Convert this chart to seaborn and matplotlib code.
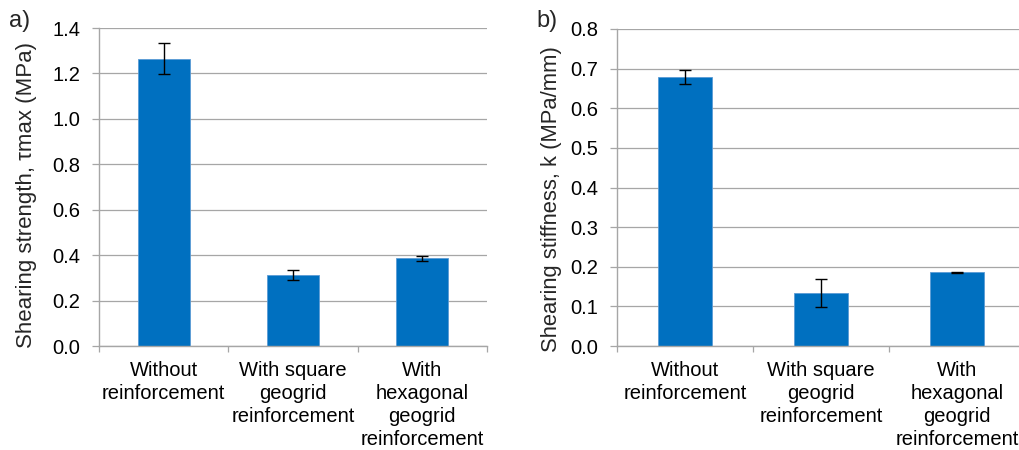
import matplotlib
matplotlib.use("Agg")
import matplotlib.pyplot as plt
import seaborn as sns
import pandas as pd
import numpy as np

categories = ["Without\nreinforcement",
              "With square\ngeogrid\nreinforcement",
              "With\nhexagonal\ngeogrid\nreinforcement"]
strength = [1.265, 0.313, 0.386]
strength_err = [0.067, 0.022, 0.010]
stiffness = [0.679, 0.134, 0.186]
stiffness_err = [0.018, 0.035, 0.002]
strength_ticks = [0.0, 0.2, 0.4, 0.6, 0.8, 1.0, 1.2, 1.4]
stiffness_ticks = [0.0, 0.1, 0.2, 0.3, 0.4, 0.5, 0.6, 0.7, 0.8]

sns.set_theme(style="white")
plt.rcParams['font.family'] = ['Liberation Sans', 'DejaVu Sans']

W, H = 1019, 450
fig = plt.figure(figsize=(W/100, H/100), dpi=100)

BAR = "#0070C0"
GRID = "#a6a6a6"
FS = 14.5

def make(ax, vals, errs, ticks, ylabel, ylfs, label_x, label_y, panel, panel_x):
    df = pd.DataFrame({"cat": categories, "val": vals})
    sns.barplot(data=df, x="cat", y="val", color=BAR, width=0.4,
                saturation=1, ax=ax, edgecolor="#5b9bd5", linewidth=0.6)
    ax.errorbar(range(len(categories)), vals, yerr=errs, fmt="none",
                ecolor="black", elinewidth=1, capsize=4.5, capthick=1, zorder=5)
    ax.set_ylim(ticks[0], ticks[-1])
    ax.set_xlim(-0.5, len(categories) - 0.5)
    ax.set_yticks(ticks)
    ax.set_yticklabels([f"{t:.1f}" for t in ticks], fontsize=FS)
    ax.yaxis.grid(True, color=GRID, linewidth=0.9)
    ax.set_axisbelow(True)
    ax.set_xlabel("")
    ax.set_ylabel(ylabel, fontsize=ylfs)
    ax.yaxis.set_label_coords(label_x, label_y)
    ax.tick_params(axis="x", which="major", length=0, pad=11)
    ax.set_xticks([-0.5 + i for i in range(len(categories) + 1)], minor=True)
    ax.tick_params(axis="x", which="minor", length=4.5, color=GRID, width=0.9, direction="out", bottom=True)
    ax.tick_params(axis="y", length=5, color=GRID, width=0.9, direction="out", left=True, pad=8.3)
    for lab in ax.get_xticklabels():
        lab.set_fontsize(FS)
        lab.set_linespacing(1.26)
        lab.set_color("#000000")
    for lab in ax.get_yticklabels():
        lab.set_color("#000000")
    for s in ["top", "right"]:
        ax.spines[s].set_visible(False)
    for s in ["left", "bottom"]:
        ax.spines[s].set_color(GRID)
        ax.spines[s].set_linewidth(1.0)
    fig.text(panel_x, 1 - 21/H, panel, fontsize=17, ha="left", va="center")

ax1 = fig.add_axes([99/W, 104/H, (487-99)/W, (346-28)/H])
make(ax1, strength, strength_err, strength_ticks,
     "Shearing strength, τmax (MPa)", 16, -0.160, 0.476, "a)", 9/W)

ax2 = fig.add_axes([617/W, 104/H, (1025-617)/W, (346-29)/H])
make(ax2, stiffness, stiffness_err, stiffness_ticks,
     "Shearing stiffness, k (MPa/mm)", 15.8, -0.135, 0.465, "b)", 536/W)

fig.savefig("out.png", dpi=100)
